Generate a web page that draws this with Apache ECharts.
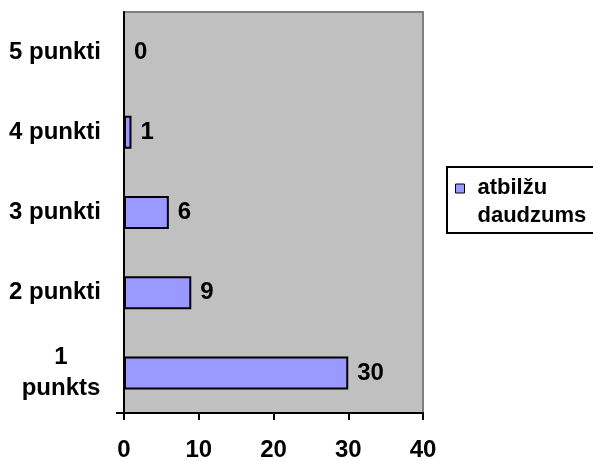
<!DOCTYPE html>
<html>
<head>
<meta charset="utf-8">
<script src="https://cdn.jsdelivr.net/npm/echarts@6/dist/echarts.min.js"></script>
<style>
  html, body { margin: 0; padding: 0; background: #fff; }
  #chart { width: 593px; height: 461px; }
</style>
</head>
<body>
<div id="chart"></div>
<script>
// Categories (bottom to top) and answer counts
const categories = ['1\npunkts', '2 punkti', '3 punkti', '4 punkti', '5 punkti'];
const answerCounts = [30, 9, 6, 1, 0];
const seriesName = 'atbilžu daudzums';
const xTicks = [0, 10, 20, 30, 40];

const FONT = '"Liberation Sans", Arial, sans-serif';
const labelFont = { fontFamily: FONT, fontWeight: 'bold', fontSize: 24, color: '#000' };

const chart = echarts.init(document.getElementById('chart'), null, { renderer: 'canvas' });

chart.setOption({
  animation: false,
  backgroundColor: '#fff',
  grid: {
    left: 124, top: 12, right: 170, bottom: 48,
    outerBoundsMode: 'none',
    containLabel: false,
    show: true,
    backgroundColor: '#c0c0c0',
    borderColor: '#808080',
    borderWidth: 2
  },
  legend: {
    orient: 'vertical',
    left: 447,
    top: 167,
    padding: [7, 60, 3, 8],
    backgroundColor: '#fff',
    borderColor: '#000',
    borderWidth: 2,
    borderRadius: 0,
    itemWidth: 9,
    itemHeight: 36,
    // square swatch sits at the top of the item box, next to the first text line
    icon: 'path://M0,0H9V9H0Z M0,36L0,36',
    itemStyle: { color: '#9999ff', borderColor: '#000', borderWidth: 1 },
    formatter: name => name.replace(' ', '\n'),
    textStyle: Object.assign({}, labelFont, { fontSize: 22, lineHeight: 28, padding: [0, 0, 0, 8] }),
    data: [seriesName]
  },
  xAxis: {
    type: 'value',
    min: xTicks[0],
    max: xTicks[xTicks.length - 1],
    interval: 10,
    axisLine: { show: true, lineStyle: { color: '#000', width: 2 } },
    axisTick: { show: true, inside: false, length: 7, lineStyle: { color: '#000', width: 2 } },
    splitLine: { show: false },
    axisLabel: Object.assign({}, labelFont, { margin: 25 })
  },
  yAxis: [
    {
      type: 'category',
      data: categories,
      axisLine: { show: true, lineStyle: { color: '#000', width: 2 } },
      axisTick: { show: false },
      splitLine: { show: false },
      axisLabel: Object.assign({}, labelFont, {
        margin: 23,
        formatter: v => v.indexOf('\n') >= 0
          ? v.split('\n').map(s => '{c|' + s + '}').join('\n')
          : v,
        rich: {
          c: Object.assign({}, labelFont, { width: 80, align: 'center', lineHeight: 31 })
        }
      })
    },
    {
      // outward tick at the lower end of the category axis
      type: 'value',
      position: 'left',
      min: 0,
      max: 1,
      axisLine: { show: false },
      axisLabel: { show: false },
      splitLine: { show: false },
      axisTick: { show: true, length: 8, customValues: [0], lineStyle: { color: '#000', width: 2 } }
    }
  ],
  series: [
    {
      name: seriesName,
      type: 'bar',
      yAxisIndex: 0,
      data: answerCounts,
      barWidth: 33,
      itemStyle: { color: '#9999ff', borderColor: '#000', borderWidth: 2 },
      label: Object.assign({ show: true, position: 'right', distance: 9 }, labelFont)
    }
  ]
});
</script>
</body>
</html>
